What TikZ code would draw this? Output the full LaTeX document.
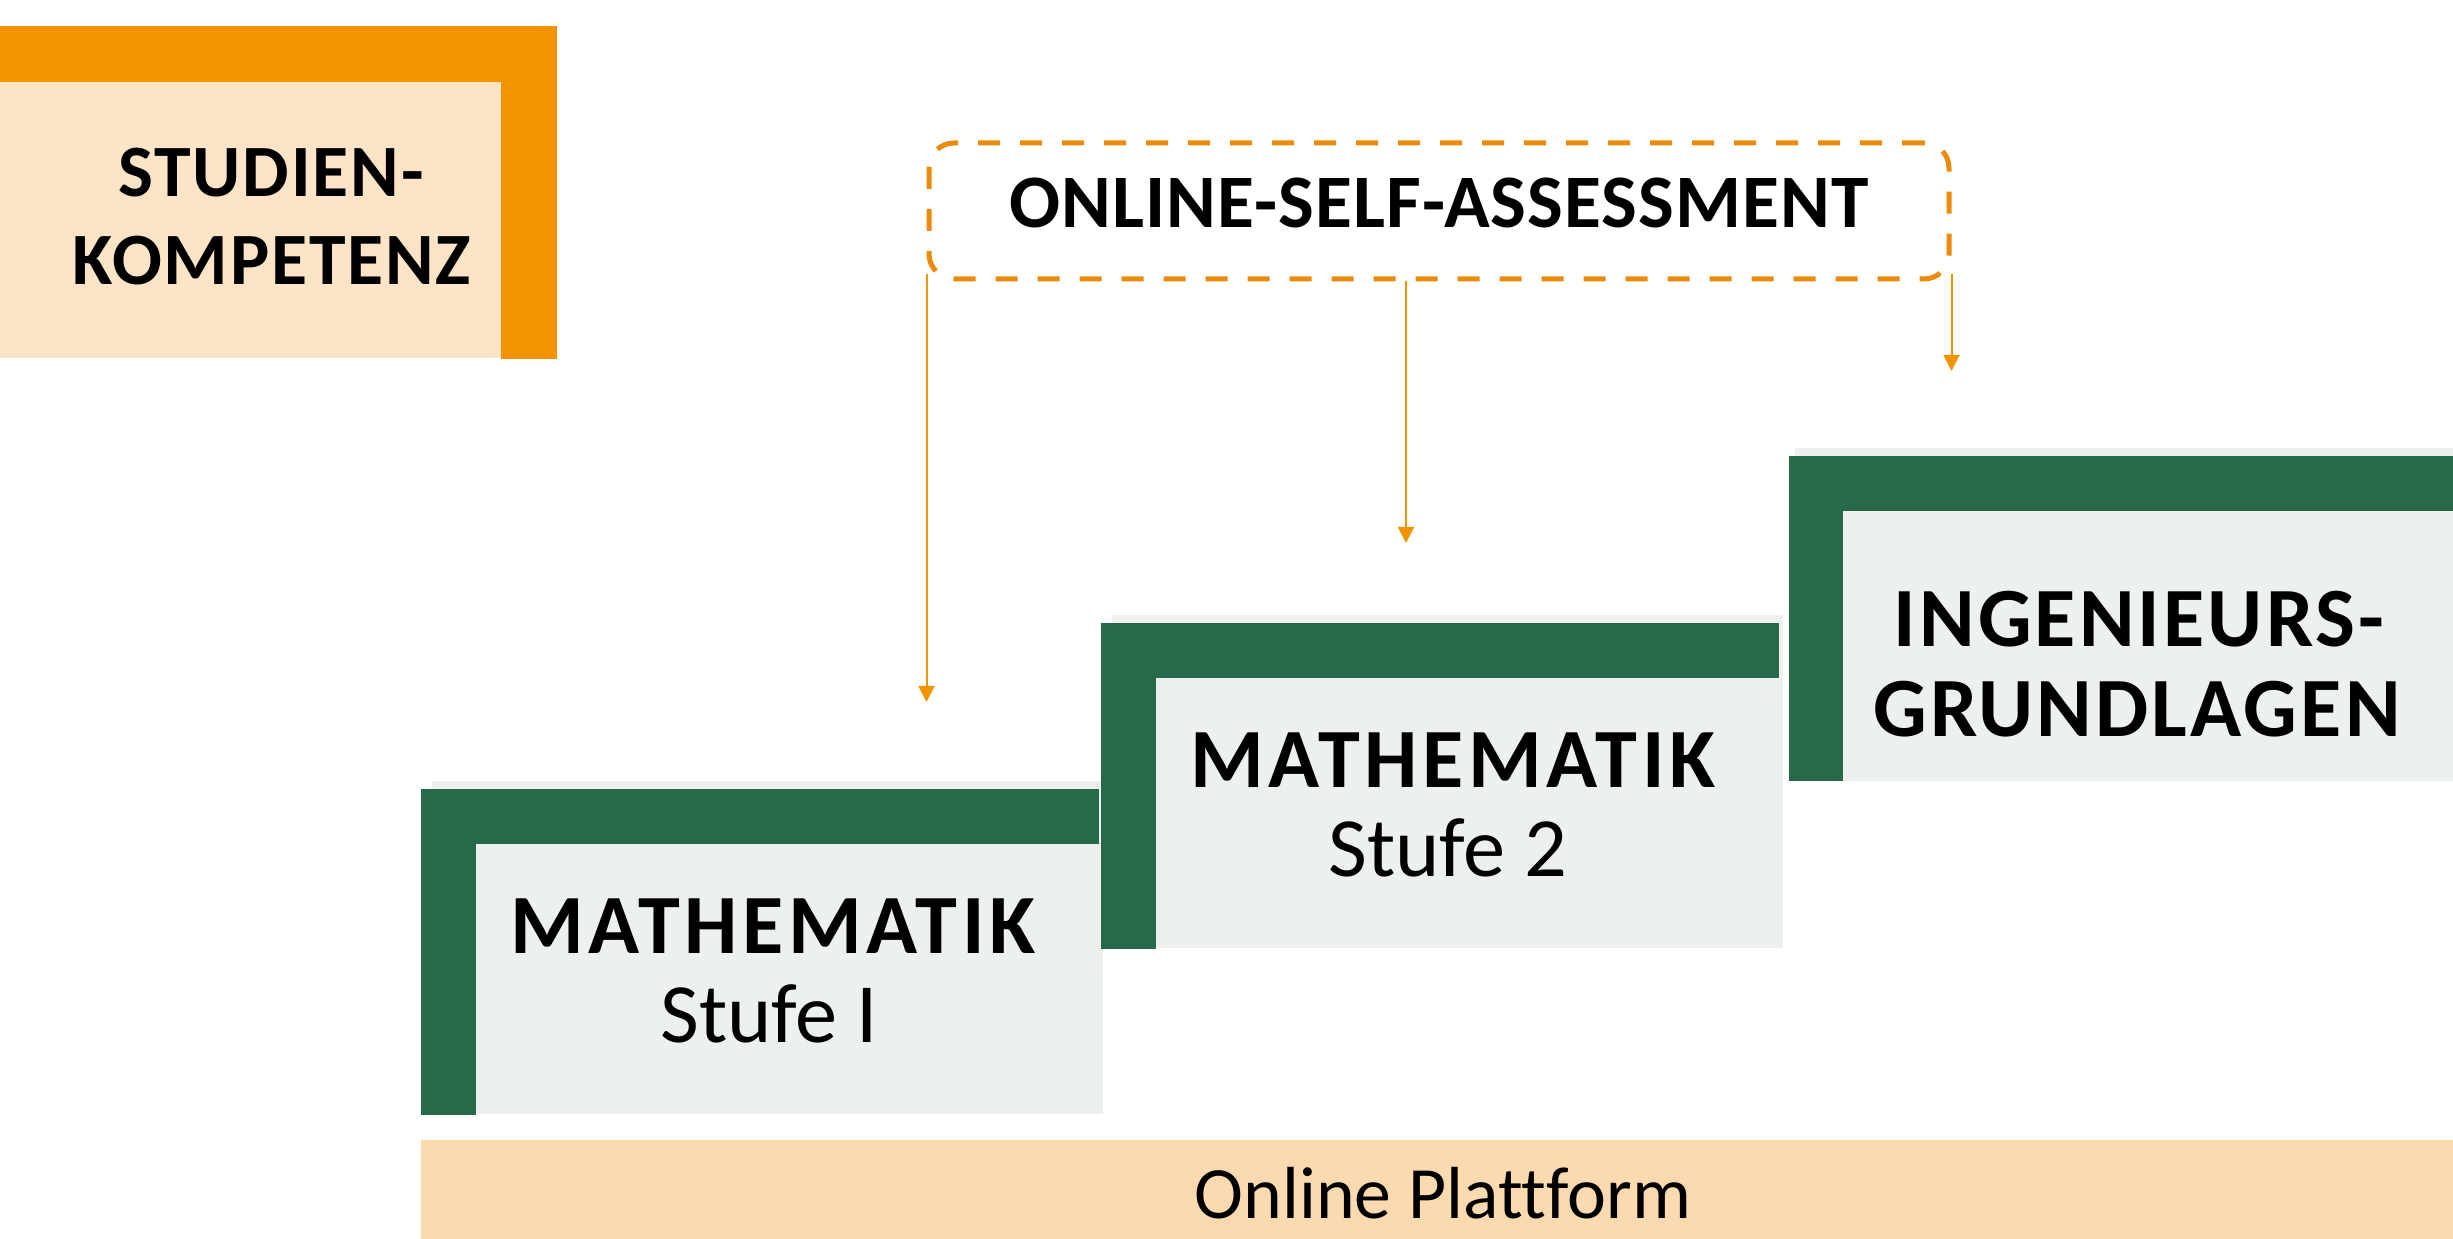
\documentclass[tikz,border=0pt]{standalone}
\usepackage{fontspec}
\setmainfont{Carlito}[Ligatures=NoCommon]
\usetikzlibrary{arrows.meta}

\definecolor{osaorange}{HTML}{F29400}
\definecolor{osadash}{HTML}{EC8A0C}
\definecolor{palepeach}{HTML}{FDE4C6}
\definecolor{barpeach}{HTML}{FBDAB0}
\definecolor{stepgreen}{HTML}{27694A}
\definecolor{steppale}{HTML}{ECF1ED}

\tikzset{
  title/.style={font=\bfseries\fontsize{24}{29}\selectfont\addfontfeature{LetterSpace=#1}, anchor=base, inner sep=0pt},
  title/.default=4,
  subtitle/.style={font=\fontsize{24}{29}\selectfont, anchor=base, inner sep=0pt},
  pointer/.style={draw=osaorange, line width=0.02cm, -{Triangle[length=0.16cm,width=0.16cm]}},
}

\begin{document}
\begin{tikzpicture}
    \useasboundingbox (0,0) rectangle (24.53,12.39);

    % studienkompetenz corner
    \fill[palepeach] (0,8.81) rectangle (5.01,11.57);
    \fill[osaorange] (0,11.57) rectangle (5.57,12.13);
    \fill[osaorange] (5.01,8.80) rectangle (5.57,11.57);
    \node[title, font=\bfseries\fontsize{21}{25}\selectfont\addfontfeature{LetterSpace=2.5}] (sk1) at (2.71,10.42) {STUDIEN-};
    \node[title, font=\bfseries\fontsize{21}{25}\selectfont\addfontfeature{LetterSpace=2.5}] (sk2) at (2.72,9.54) {KOMPETENZ};

    % step 1
    \fill[steppale] (4.32,1.25) rectangle (11.03,4.58);
    \fill[stepgreen] (4.21,3.95) rectangle (10.99,4.50);
    \fill[stepgreen] (4.21,1.24) rectangle (4.76,4.50);
    \node[title=5.5] (m1) at (7.73,2.85) {MATHEMATIK};
    \node[subtitle] (s1) at (7.69,1.96) {Stufe I};

    % step 2
    \fill[steppale] (11.12,2.91) rectangle (17.83,6.24);
    \fill[stepgreen] (11.01,5.61) rectangle (17.79,6.16);
    \fill[stepgreen] (11.01,2.90) rectangle (11.56,6.16);
    \node[title=5.5] (m2) at (14.53,4.51) {MATHEMATIK};
    \node[subtitle] (s2) at (14.48,3.62) {Stufe 2};

    % step 3
    \fill[steppale] (17.95,4.58) rectangle (24.53,7.91);
    \fill[stepgreen] (17.89,7.28) rectangle (24.53,7.83);
    \fill[stepgreen] (17.89,4.58) rectangle (18.43,7.83);
    \node[title=3.7] (ing1) at (21.39,5.92) {INGENIEURS-};
    \node[title=3.7] (ing2) at (21.37,5.02) {GRUNDLAGEN};

    % platform bar
    \fill[barpeach] (4.21,0) rectangle (24.53,0.99);
    \node[subtitle, font=\fontsize{21}{25}\selectfont] (plat) at (14.43,0.20) {Online Plattform};

    % self assessment box and pointers
    \node[draw=osadash, line width=0.05cm, dash pattern=on 0.22cm off 0.2cm, rounded corners=0.25cm,
          minimum width=10.2cm, minimum height=1.36cm, text depth=0.16cm,
          font=\bfseries\fontsize{21.5}{26}\selectfont\addfontfeature{LetterSpace=1.5}] (osa) at (14.39,10.28) {ONLINE-SELF-ASSESSMENT};
    \coordinate (t1) at (osa.west |- 0,5.37);
    \coordinate (t2) at (14.06,6.96);
    \coordinate (t3) at (osa.east |- 0,8.68);
    \draw[pointer] ([yshift=0.07cm]osa.south west) -- (t1);
    \draw[pointer] (osa.south -| t2) -- (t2);
    \draw[pointer] ([yshift=0.07cm]osa.south east) -- (t3);
\end{tikzpicture}
\end{document}
